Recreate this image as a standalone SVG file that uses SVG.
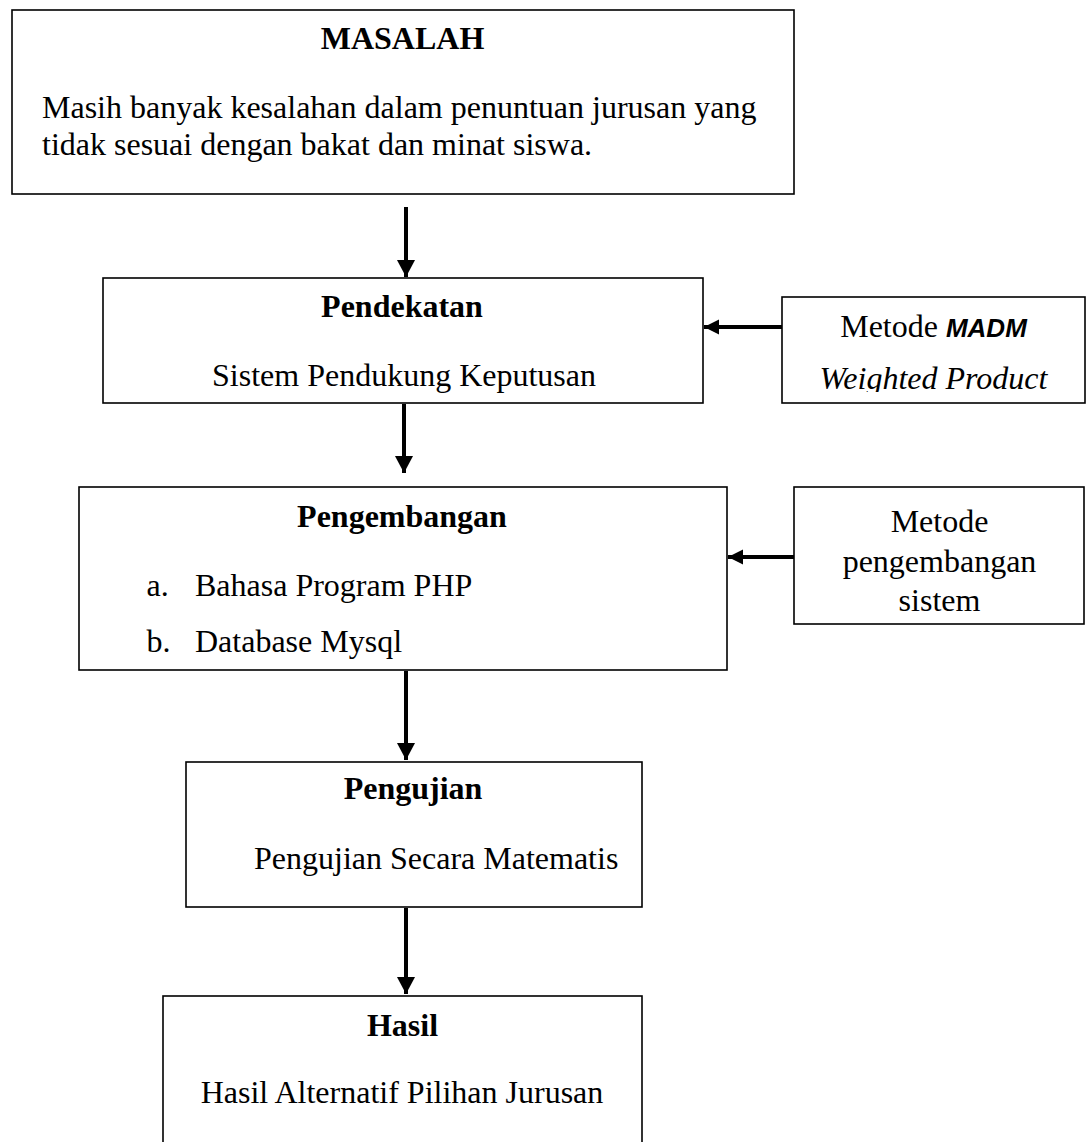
<svg xmlns="http://www.w3.org/2000/svg" width="1087" height="1142" viewBox="0 0 1087 1142">
<style>
.box{fill:#fff;stroke:#000;stroke-width:1.6}
.t{font-family:"Liberation Serif","Times New Roman",serif;font-size:32px;fill:#000}
.b{font-weight:bold}
.c{text-anchor:middle}
.i{font-style:italic}
.s{font-family:"Liberation Sans",Arial,sans-serif;font-weight:bold;font-style:italic;font-size:26px}
.ln{stroke:#000;stroke-width:4;fill:none}
</style>
<defs>
<marker id="ah" markerUnits="userSpaceOnUse" markerWidth="18" markerHeight="18" viewBox="0 0 18 18" refX="17" refY="9" orient="auto">
<path d="M0,0 L17,9 L0,18 Z" fill="#000"/>
</marker>
<marker id="ahs" markerUnits="userSpaceOnUse" markerWidth="16" markerHeight="16" viewBox="0 0 16 16" refX="15" refY="8" orient="auto">
<path d="M0,0.5 L15,8 L0,15.5 Z" fill="#000"/>
</marker>
<clipPath id="wpclip"><rect x="782" y="297" width="303" height="95"/></clipPath>
</defs>
<rect width="1087" height="1142" fill="#fff"/>

<g id="masalah">
<rect class="box" x="12" y="10" width="782" height="184"/>
<text class="t b c" x="402.5" y="49">MASALAH</text>
<text class="t" x="42" y="118">Masih banyak kesalahan dalam penuntuan jurusan yang</text>
<text class="t" x="42" y="155">tidak sesuai dengan bakat dan minat siswa.</text>
</g>

<g id="pendekatan">
<rect class="box" x="103" y="278" width="600" height="125"/>
<text class="t b c" x="402" y="317">Pendekatan</text>
<text class="t" x="212" y="386">Sistem Pendukung Keputusan</text>
</g>

<g id="metode-madm">
<rect class="box" x="782" y="297" width="303" height="106"/>
<text class="t c" x="933.5" y="337">Metode <tspan class="s">MADM</tspan></text>
<text class="t c i" x="933.5" y="389" clip-path="url(#wpclip)">Weighted Product</text>
</g>

<g id="pengembangan">
<rect class="box" x="79" y="487" width="648" height="183"/>
<text class="t b c" x="402" y="527">Pengembangan</text>
<text class="t" x="146.5" y="596">a.</text>
<text class="t" x="195" y="596">Bahasa Program PHP</text>
<text class="t" x="146.5" y="652">b.</text>
<text class="t" x="195" y="652">Database Mysql</text>
</g>

<g id="metode-pengembangan">
<rect class="box" x="794" y="487" width="290" height="137"/>
<text class="t c" x="939.5" y="532">Metode</text>
<text class="t c" x="939.5" y="572">pengembangan</text>
<text class="t c" x="939.5" y="611">sistem</text>
</g>

<g id="pengujian">
<rect class="box" x="186" y="762" width="456" height="145"/>
<text class="t b c" x="413" y="799">Pengujian</text>
<text class="t" x="254" y="869">Pengujian Secara Matematis</text>
</g>

<g id="hasil">
<rect class="box" x="163" y="996" width="479" height="170"/>
<text class="t b c" x="402.5" y="1036">Hasil</text>
<text class="t" x="200.7" y="1103">Hasil Alternatif Pilihan Jurusan</text>
</g>

<g id="connectors">
<line class="ln" x1="406" y1="207" x2="406" y2="277" marker-end="url(#ah)"/>
<line class="ln" x1="404" y1="404" x2="404" y2="473" marker-end="url(#ah)"/>
<line class="ln" x1="406" y1="671" x2="406" y2="760" marker-end="url(#ah)"/>
<line class="ln" x1="406" y1="908" x2="406" y2="994" marker-end="url(#ah)"/>
<line class="ln" x1="782" y1="327" x2="704" y2="327" marker-end="url(#ahs)"/>
<line class="ln" x1="794" y1="557" x2="728" y2="557" marker-end="url(#ahs)"/>
</g>
</svg>
